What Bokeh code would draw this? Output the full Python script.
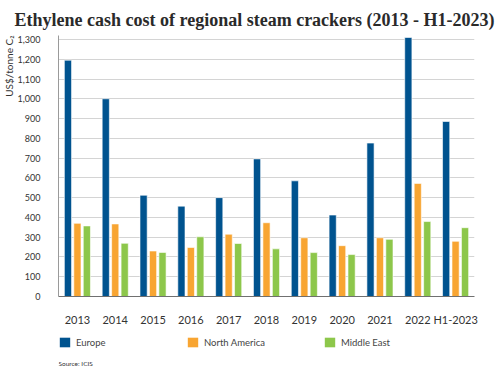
from bokeh.plotting import figure
from bokeh.layouts import column
from bokeh.models import (ColumnDataSource, Legend, LegendItem, Title, Label,
                          NumeralTickFormatter, SingleIntervalTicker, Range1d)
from bokeh.transform import dodge
from bokeh.embed import file_html
from bokeh.resources import INLINE

years = ["2013", "2014", "2015", "2016", "2017", "2018", "2019", "2020",
         "2021", "2022", "H1-2023"]
europe = [1195, 1000, 512, 457, 500, 696, 585, 412, 776, 1310, 885]
north_america = [370, 367, 230, 248, 315, 373, 297, 257, 297, 572, 279]
middle_east = [357, 269, 223, 302, 268, 241, 222, 212, 289, 379, 348]

series_names = ["Europe", "North America", "Middle East"]
series_keys = ["europe", "na", "me"]
colors = ["#00538F", "#F8A532", "#8DC74B"]

src = ColumnDataSource(dict(year=years, europe=europe,
                            na=north_america, me=middle_east))

W = 500
H1, H2 = 328, 39

# ---------------- main chart ----------------
p = figure(x_range=years, y_range=Range1d(0, 1320), width=W, height=H1,
           output_backend="svg", toolbar_location=None,
           min_border_left=49, min_border_right=26,
           min_border_top=35, min_border_bottom=24)
p.outline_line_color = None
p.title = None

for key, off, col in zip(series_keys, [-0.25, 0.0, 0.25], colors):
    p.vbar(x=dodge("year", off, range=p.x_range), top=key, width=0.19,
           source=src, fill_color=col, line_color="white", line_width=0.6)

p.yaxis.ticker = SingleIntervalTicker(interval=100)
p.yaxis.formatter = NumeralTickFormatter(format="0,0")
p.yaxis.axis_line_color = "#9a9a9a"
p.yaxis.major_tick_line_color = None
p.yaxis.minor_tick_line_color = None
p.yaxis.major_label_standoff = 12
p.yaxis.major_label_text_font = "Lato"
p.yaxis.major_label_text_font_size = "9px"
p.yaxis.major_label_text_color = "#333333"

p.xaxis.axis_line_color = "#707070"
p.xaxis.major_tick_line_color = None
p.xaxis.minor_tick_line_color = None
p.xaxis.major_label_standoff = 10
p.xaxis.major_label_text_font = "Lato"
p.xaxis.major_label_text_font_size = "11px"
p.xaxis.major_label_text_color = "#333333"

p.xgrid.grid_line_color = None
p.ygrid.grid_line_color = "#D4D4D4"
p.ygrid.grid_line_width = 1.2

p.add_layout(Title(text="Ethylene cash cost of regional steam crackers (2013 - H1-2023)",
                   text_font="Liberation Serif", text_font_size="18px",
                   text_font_style="bold", text_color="#2a2a2a",
                   align="left", offset=-44, standoff=12), "above")

p.add_layout(Title(text="US$/tonne C\u2082", text_font="Lato",
                   text_font_size="10px", text_font_style="normal",
                   text_color="#333333", align="right", standoff=0), "left")

# ---------------- legend strip ----------------
# the strip's y-range lies far above the data, so its bars stay out of view;
# they only serve as legend renderers
p2 = figure(width=W, height=H2, x_range=years, y_range=Range1d(5000, 6000),
            output_backend="svg", toolbar_location=None,
            min_border_left=0, min_border_right=0,
            min_border_top=0, min_border_bottom=0,
            x_axis_type=None, y_axis_type=None)
p2.outline_line_color = None
p2.title = None
p2.xgrid.visible = False
p2.ygrid.visible = False

leg_x = [0, 128, 265]
for name, key, col, lx in zip(series_names, series_keys, colors, leg_x):
    r = p2.vbar(x="year", top=key, width=0.2, source=src,
                fill_color=col, line_color=None)
    leg = Legend(items=[LegendItem(label=name, renderers=[r])],
                 location=(lx, 19), orientation="horizontal",
                 glyph_width=13, glyph_height=12, label_standoff=5,
                 padding=0, margin=0, border_line_color=None,
                 background_fill_alpha=0, label_text_font="Lato",
                 label_text_font_size="9.5px", label_text_color="#444444",
                 label_height=12)
    p2.add_layout(leg, "center")

p2.add_layout(Label(x=0, y=4, x_units="screen", y_units="screen",
                    text="Source: ICIS", text_font="Lato",
                    text_font_size="6.5px", text_color="#333333",
                    text_baseline="middle", text_align="left"))

layout = column(p, p2, spacing=0)
open("out.html", "w").write(file_html(layout, INLINE))
